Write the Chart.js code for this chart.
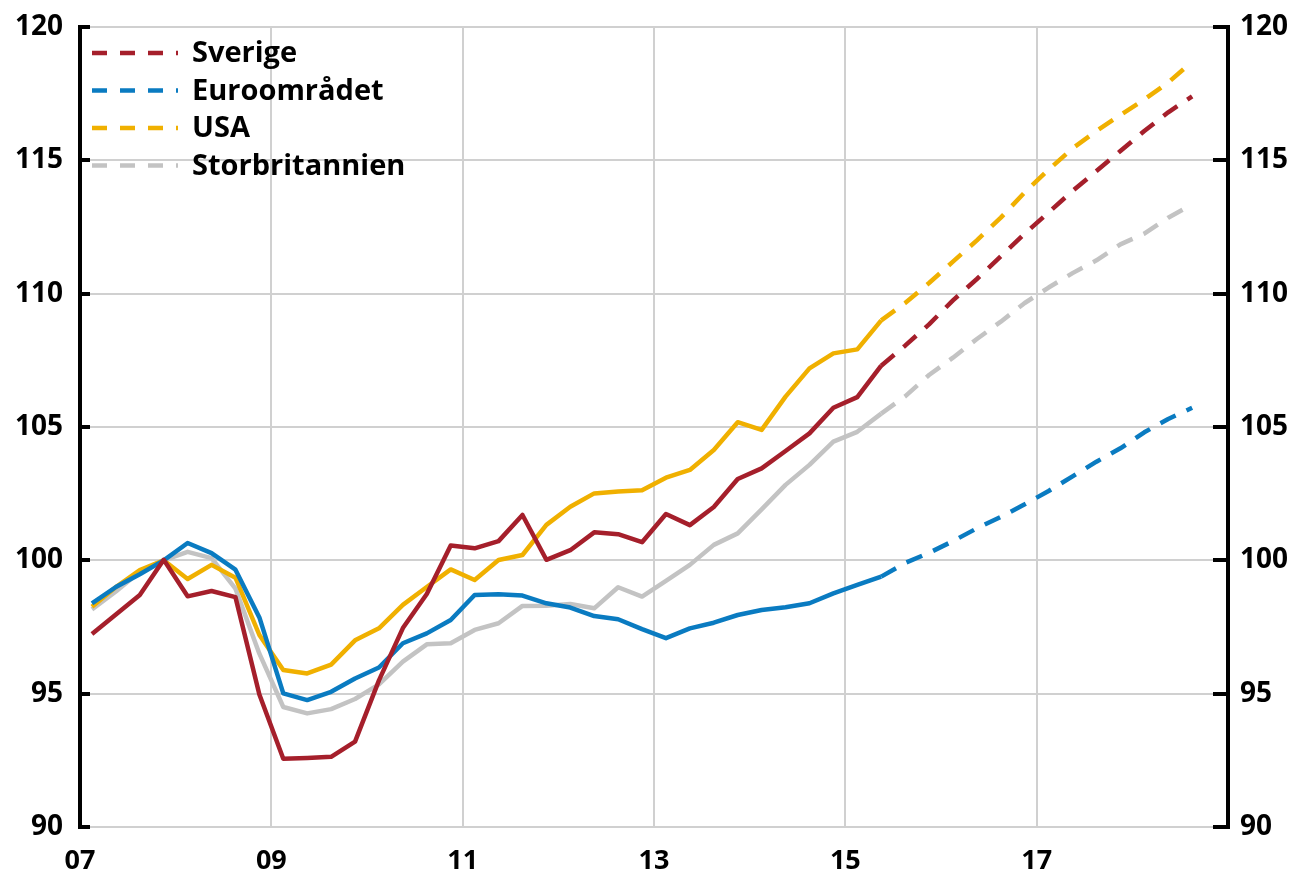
<!DOCTYPE html>
<html>
<head>
<meta charset="utf-8">
<script src="https://cdn.jsdelivr.net/npm/chart.js@4.4.1/dist/chart.umd.min.js"></script>
<style>
  html, body { margin: 0; padding: 0; background: #fff; }
</style>
</head>
<body>
<canvas id="chart" width="1293" height="880"></canvas>
<script>
const quarters = [
  "2007Q1", "2007Q2", "2007Q3", "2007Q4",
  "2008Q1", "2008Q2", "2008Q3", "2008Q4",
  "2009Q1", "2009Q2", "2009Q3", "2009Q4",
  "2010Q1", "2010Q2", "2010Q3", "2010Q4",
  "2011Q1", "2011Q2", "2011Q3", "2011Q4",
  "2012Q1", "2012Q2", "2012Q3", "2012Q4",
  "2013Q1", "2013Q2", "2013Q3", "2013Q4",
  "2014Q1", "2014Q2", "2014Q3", "2014Q4",
  "2015Q1", "2015Q2", "2015Q3", "2015Q4",
  "2016Q1", "2016Q2", "2016Q3", "2016Q4",
  "2017Q1", "2017Q2", "2017Q3", "2017Q4",
  "2018Q1", "2018Q2", "2018Q3"
];

// last outcome quarter; the rest is forecast (dashed)
const forecastFrom = "2015Q2";

const sverige = [
  97.24, 97.97, 98.70, 100.02, 98.65, 98.85, 98.62, 94.97,
  92.56, 92.59, 92.63, 93.20, 95.50, 97.46, 98.74, 100.56,
  100.45, 100.72, 101.70, 100.02, 100.38, 101.05, 100.98, 100.68,
  101.74, 101.32, 102.00, 103.05, 103.45, 104.10, 104.76, 105.72,
  106.12, 107.30, 108.05, 108.85, 109.75, 110.55, 111.40, 112.25,
  113.05, 113.85, 114.60, 115.35, 116.10, 116.80, 117.40
];

const euroomradet = [
  98.39, 99.00, 99.48, 100.00, 100.65, 100.27, 99.65, 97.86,
  95.01, 94.76, 95.07, 95.57, 95.98, 96.89, 97.26, 97.76,
  98.70, 98.73, 98.68, 98.39, 98.23, 97.91, 97.79, 97.42,
  97.08, 97.45, 97.66, 97.95, 98.14, 98.24, 98.39, 98.76,
  99.08, 99.39, 99.90, 100.28, 100.72, 101.20, 101.63, 102.10,
  102.60, 103.15, 103.70, 104.20, 104.80, 105.30, 105.72
];

const usa = [
  98.26, 99.00, 99.63, 100.00, 99.30, 99.83, 99.35, 97.20,
  95.89, 95.76, 96.09, 97.00, 97.45, 98.33, 99.00, 99.66,
  99.26, 100.01, 100.20, 101.33, 102.01, 102.51, 102.58, 102.63,
  103.10, 103.39, 104.14, 105.18, 104.89, 106.14, 107.20, 107.76,
  107.91, 109.00, 109.65, 110.40, 111.20, 112.00, 112.85, 113.80,
  114.65, 115.45, 116.10, 116.70, 117.28, 117.92, 118.70
];

const storbritannien = [
  98.16, 98.83, 99.57, 100.00, 100.32, 100.08, 98.94, 96.50,
  94.50, 94.26, 94.42, 94.80, 95.35, 96.20, 96.85, 96.89,
  97.39, 97.64, 98.29, 98.30, 98.36, 98.20, 98.99, 98.64,
  99.23, 99.83, 100.58, 101.01, 101.91, 102.83, 103.58, 104.45,
  104.82, 105.50, 106.15, 106.95, 107.60, 108.30, 108.95, 109.65,
  110.23, 110.77, 111.25, 111.85, 112.25, 112.85, 113.35
];

const yTicks = [90, 95, 100, 105, 110, 115, 120];
const xTicks = [2007, 2009, 2011, 2013, 2015, 2017, 2019];

const seriesNames = ["Sverige", "Euroområdet", "USA", "Storbritannien"];
const seriesColors = ["#a51f2b", "#0a7bc1", "#f0b000", "#c3c3c3"];

const FONT = "'Open Sans', 'Noto Sans', sans-serif";
const DASH = [17, 12];

// quarter label -> decimal year at mid-quarter
function qx(label) {
  const y = parseInt(label.slice(0, 4), 10);
  const q = parseInt(label.slice(5), 10);
  return y + (q - 0.5) / 4;
}

const splitIdx = quarters.indexOf(forecastFrom);

function points(values) {
  return values.map(function (v, i) {
    return { x: qx(quarters[i]), y: v };
  });
}

const datasets = [sverige, euroomradet, usa, storbritannien].map(function (vals, k) {
  return {
    label: seriesNames[k],
    data: points(vals),
    borderColor: seriesColors[k],
    backgroundColor: seriesColors[k],
    borderWidth: 4.5,
    pointRadius: 0,
    tension: 0,
    fill: false,
    borderCapStyle: "butt",
    borderJoinStyle: "round",
    segment: {
      borderDash: function (ctx) {
        return ctx.p0DataIndex >= splitIdx ? DASH : undefined;
      },
    },
  };
});

// inward black tick marks on both value axes
const inwardTicks = {
  id: "inwardTicks",
  afterDraw: function (chart) {
    const c = chart.ctx;
    const area = chart.chartArea;
    const ys = chart.scales.y;
    c.save();
    c.strokeStyle = "#000";
    c.lineWidth = 4;
    yTicks.forEach(function (v) {
      const py = Math.round(ys.getPixelForValue(v));
      c.beginPath();
      c.moveTo(area.left - 2, py);
      c.lineTo(area.left + 10, py);
      c.moveTo(area.right - 15, py);
      c.lineTo(area.right + 2, py);
      c.stroke();
    });
    c.restore();
  },
};

// legend drawn inside the plot, top left
const insideLegend = {
  id: "insideLegend",
  afterDraw: function (chart) {
    const c = chart.ctx;
    c.save();
    c.font = "bold 29px " + FONT;
    c.textBaseline = "middle";
    c.textAlign = "left";
    seriesNames.forEach(function (name, k) {
      const y = 53 + k * 37.5;
      c.strokeStyle = seriesColors[k];
      c.lineWidth = 4.5;
      c.setLineDash([15, 13]);
      c.beginPath();
      c.moveTo(92, y);
      c.lineTo(178, y);
      c.stroke();
      c.setLineDash([]);
      c.fillStyle = "#000";
      c.fillText(name, 192, y + 1);
    });
    c.restore();
  },
};

function fixValueAxis(width) {
  return function (scale) {
    scale.width = width;
    scale.paddingTop = 0;
    scale.paddingBottom = 0;
  };
}

new Chart(document.getElementById("chart"), {
  type: "line",
  data: { datasets: datasets },
  options: {
    responsive: false,
    animation: false,
    events: [],
    layout: { padding: { top: 27, left: 0, right: 0, bottom: 0 } },
    plugins: { legend: { display: false }, tooltip: { enabled: false } },
    scales: {
      x: {
        type: "linear",
        min: 2007,
        max: 2019,
        afterBuildTicks: function (scale) {
          scale.ticks = xTicks.map(function (v) { return { value: v }; });
        },
        afterFit: function (scale) {
          scale.height = 53;
          scale.paddingLeft = 0;
          scale.paddingRight = 0;
        },
        ticks: {
          color: "#000",
          font: { family: FONT, size: 27, weight: "bold" },
          padding: 18,
          maxRotation: 0,
          autoSkip: false,
          callback: function (v) {
            if (v >= 2019) return "";
            return String(v % 100).padStart(2, "0");
          },
        },
        grid: { color: "#d0d0d0", lineWidth: 2, drawTicks: false },
        border: { display: false },
      },
      y: {
        position: "left",
        min: 90,
        max: 120,
        afterBuildTicks: function (scale) {
          scale.ticks = yTicks.map(function (v) { return { value: v }; });
        },
        afterFit: fixValueAxis(80),
        ticks: {
          color: "#000",
          font: { family: FONT, size: 28, weight: "bold" },
          padding: 17,
        },
        grid: { color: "#d0d0d0", lineWidth: 2, drawTicks: false },
        border: { display: true, color: "#000", width: 4 },
      },
      y2: {
        position: "right",
        min: 90,
        max: 120,
        afterBuildTicks: function (scale) {
          scale.ticks = yTicks.map(function (v) { return { value: v }; });
        },
        afterFit: fixValueAxis(65),
        ticks: {
          color: "#000",
          font: { family: FONT, size: 28, weight: "bold" },
          padding: 12,
        },
        grid: { display: false, drawTicks: false },
        border: { display: true, color: "#000", width: 4 },
      },
    },
  },
  plugins: [inwardTicks, insideLegend],
});
</script>
</body>
</html>
